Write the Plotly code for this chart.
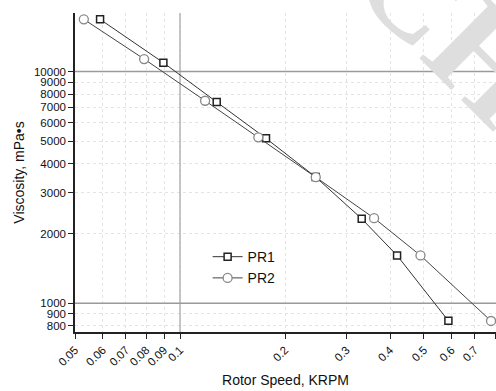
import plotly.graph_objects as go
import math

# Rotor speed (KRPM) and viscosity (mPa•s) for the two samples
pr1_speed = [0.059, 0.0896, 0.1274, 0.1764, 0.2449, 0.3318, 0.419, 0.588]
pr1_visc = [16800, 10920, 7386, 5149, 3505, 2316, 1609, 840]

pr2_speed = [0.053, 0.0789, 0.118, 0.1677, 0.245, 0.360, 0.489, 0.779]
pr2_visc = [16800, 11324, 7482, 5200, 3500, 2330, 1609, 839]

x_ticks = [0.05, 0.06, 0.07, 0.08, 0.09, 0.1, 0.2, 0.3, 0.4, 0.5, 0.6, 0.7, 0.8]
x_tick_text = ["0.05", "0.06", "0.07", "0.08", "0.09", "0.1", "0.2", "0.3", "0.4", "0.5", "0.6", "0.7", "0.8"]
y_ticks = [800, 900, 1000, 2000, 3000, 4000, 5000, 6000, 7000, 8000, 9000, 10000]
y_tick_text = [str(v) for v in y_ticks]
major_x = [0.1]
major_y = [1000, 10000]

x_range = [0.05, 0.805]
y_range = [752, 17890]

FONT = "Liberation Sans, Arial, sans-serif"

fig = go.Figure()

# solid reference lines at 0.1 KRPM and at the decades, under the data
for xv in major_x:
    fig.add_trace(go.Scatter(x=[xv, xv], y=y_range, mode="lines", hoverinfo="skip",
                             line=dict(color="#b4b4b4", width=1.5), showlegend=False))
for yv in major_y:
    fig.add_trace(go.Scatter(x=x_range, y=[yv, yv], mode="lines", hoverinfo="skip",
                             line=dict(color="#9a9a9a", width=1.5), showlegend=False))

fig.add_trace(go.Scatter(
    x=pr1_speed, y=pr1_visc, name="PR1", mode="lines+markers",
    line=dict(color="#333333", width=1),
    marker=dict(symbol="square", size=7, color="white",
                line=dict(color="#222222", width=1.5)),
))
fig.add_trace(go.Scatter(
    x=pr2_speed, y=pr2_visc, name="PR2", mode="lines+markers",
    line=dict(color="#444444", width=1),
    marker=dict(symbol="circle", size=9, color="white",
                line=dict(color="#888888", width=1.3)),
))

fig.update_layout(
    width=496, height=391,
    margin=dict(l=75, r=0, t=13, b=59),
    paper_bgcolor="white", plot_bgcolor="white",
    font=dict(family=FONT, size=11.5, color="#111111"),
    showlegend=True,
    legend=dict(x=0.315, y=0.285, xanchor="left", yanchor="top",
                bgcolor="rgba(0,0,0,0)", font=dict(size=14),
                itemwidth=30, tracegroupgap=0),
    annotations=[dict(
        text="<b>CH</b>", x=0.9, y=0.96, xref="paper", yref="paper",
        xanchor="center", yanchor="middle", showarrow=False, textangle=45,
        font=dict(family="Liberation Serif", size=140, color="#dedede", shadow="none"),
    )],
)

fig.update_xaxes(
    type="log",
    range=[math.log10(x_range[0]), math.log10(x_range[1])],
    tickvals=x_ticks, ticktext=x_tick_text, tickangle=-45,
    ticks="outside", ticklen=5, tickcolor="#222222",
    showline=True, linecolor="#222222", linewidth=1.5,
    showgrid=True, gridcolor="#e4e4e4", griddash="dot", gridwidth=1,
    zeroline=False,
    title=dict(text="Rotor Speed, KRPM", font=dict(size=14), standoff=8),
)
fig.update_yaxes(
    type="log",
    range=[math.log10(y_range[0]), math.log10(y_range[1])],
    tickvals=y_ticks, ticktext=y_tick_text,
    ticks="outside", ticklen=5, tickcolor="#222222",
    showline=True, linecolor="#222222", linewidth=1.5,
    showgrid=True, gridcolor="#e4e4e4", griddash="dot", gridwidth=1,
    zeroline=False,
    title=dict(text="Viscosity, mPa•s", font=dict(size=14), standoff=6),
)

fig.write_html("out.html")
